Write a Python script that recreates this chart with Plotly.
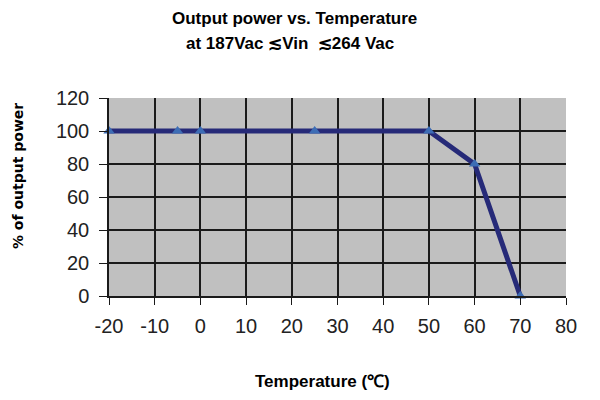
import plotly.graph_objects as go

# derating curve
temps = [-20, -5, 0, 25, 50, 60, 70]
power = [100, 100, 100, 100, 100, 80, 0]

x_ticks = [-20, -10, 0, 10, 20, 30, 40, 50, 60, 70, 80]
x_labels = ['-20', '-10', '0', '10', '20', '30', '40', '50', '60', '70', '80']
y_ticks = [0, 20, 40, 60, 80, 100, 120]

fig = go.Figure()
fig.add_trace(go.Scatter(
    x=temps, y=power, mode='lines+markers',
    line=dict(color='#262a78', width=5),
    marker=dict(symbol='triangle-up', size=10, color='#3d6db5'),
    cliponaxis=False, showlegend=False))

font = 'Liberation Sans, Arial'

fig.update_layout(
    width=600, height=400,
    margin=dict(l=101, r=42, t=90, b=112),
    paper_bgcolor='white', plot_bgcolor='#c0c0c0',
)
# titles placed as annotations so they sit where the original has them
ann = dict(xref='paper', yref='paper', showarrow=False, xanchor='center', yanchor='middle')
fig.add_annotation(text='<b>Output power vs. Temperature</b>', x=0.405, y=1.404,
                   font=dict(family=font, size=17, color='black'), **ann)
fig.add_annotation(text='<b>at 187Vac ≲Vin  ≲264 Vac</b>', x=0.396, y=1.273,
                   font=dict(family=font, size=17, color='black'), **ann)
fig.add_annotation(text='<b>Temperature (℃)</b>', x=0.468, y=-0.434,
                   font=dict(family=font, size=17, color='black'), **ann)
fig.add_annotation(text='<b>% of output power</b>', x=-0.199, y=0.606, textangle=-90,
                   font=dict(family='DejaVu Sans', size=14, color='black'), **ann)

fig.update_xaxes(
    range=[-20, 80], tickvals=x_ticks, ticktext=x_labels, automargin=False,
    showgrid=True, gridcolor='#1a1a1a', gridwidth=1.5,
    zeroline=False, showline=True, linecolor='#1a1a1a', linewidth=1.5,
    ticks='outside', ticklen=7, tickcolor='#1a1a1a', ticklabelstandoff=4,
    tickfont=dict(family=font, size=20, color='#222'))
fig.update_yaxes(
    range=[0, 120], tickvals=y_ticks, automargin=False,
    showgrid=True, gridcolor='#1a1a1a', gridwidth=1.5,
    zeroline=False, showline=True, linecolor='#1a1a1a', linewidth=1.5,
    ticks='outside', ticklen=8, tickcolor='#1a1a1a', ticklabelstandoff=6,
    tickfont=dict(family=font, size=20, color='#222'))

fig.write_html('out.html')
